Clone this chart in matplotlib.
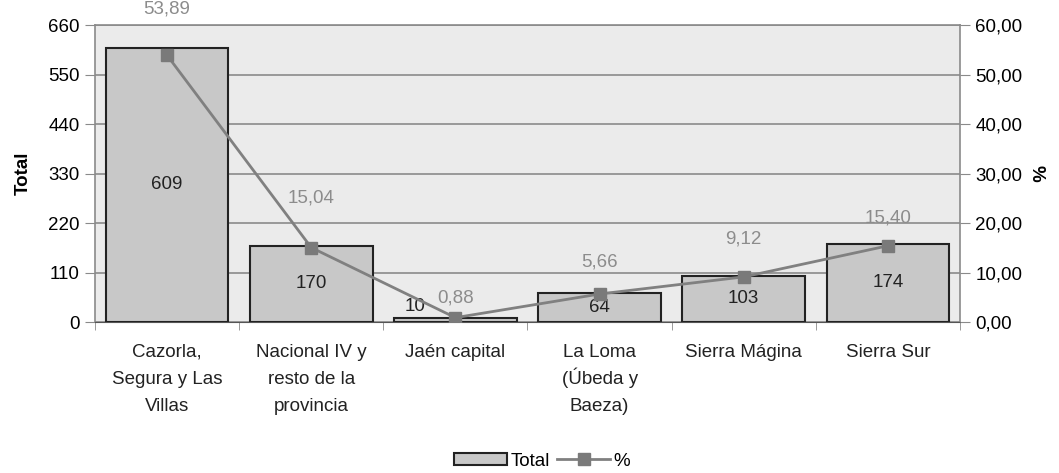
import numpy as np
import matplotlib.pyplot as plt
from matplotlib.patches import Patch
from matplotlib.lines import Line2D
from matplotlib.transforms import blended_transform_factory, offset_copy

plt.rcParams['font.family'] = ['Liberation Sans', 'DejaVu Sans']

categories = ["Cazorla,\nSegura y Las\nVillas", "Nacional IV y\nresto de la\nprovincia",
              "Jaén capital", "La Loma\n(Úbeda y\nBaeza)", "Sierra Mágina", "Sierra Sur"]
totals = [609, 170, 10, 64, 103, 174]
percents = [53.89, 15.04, 0.88, 5.66, 9.12, 15.40]
total_ticks = [0, 110, 220, 330, 440, 550, 660]
pct_ticks = [0, 10, 20, 30, 40, 50, 60]

# label offsets for the % labels, in points (as placed in the original)
pct_label_dy = [33, 36, 14, 23, 27, 20]

FS = 13.5
fig = plt.figure(figsize=(10.59, 4.73), dpi=100)
ax = fig.add_axes([0.0897, 0.3192, 0.8168, 0.6279])
ax.set_facecolor('#ebebeb')

x = np.arange(len(categories))
ax.bar(x, totals, width=0.85, color='#c8c8c8', edgecolor='#222222', linewidth=1.5, zorder=3)
ax.set_xlim(-0.5, len(categories) - 0.5)
ax.set_ylim(0, 660)
ax.set_yticks(total_ticks)
ax.yaxis.grid(True, color='#8a8a8a', linewidth=1.2, zorder=0)
ax.set_axisbelow(True)
ax.tick_params(axis='y', labelsize=FS, length=7, color='#8a8a8a', pad=4)
ax.set_ylabel('Total', fontsize=FS, fontweight='bold', labelpad=12)

# x ticks between categories, labels drawn line by line for even spacing
ax.set_xticks([])
ax.set_xticks(np.arange(len(categories) + 1) - 0.5, minor=True)
ax.tick_params(axis='x', which='minor', length=6, color='#8a8a8a')
trans = blended_transform_factory(ax.transData, ax.transAxes)
for i, lab in enumerate(categories):
    for j, line in enumerate(lab.split('\n')):
        t = offset_copy(trans, fig=fig, y=-25 - 19.5 * j, units='points')
        ax.text(i, 0, line, transform=t, ha='center', va='baseline', fontsize=FS, color='#222222')

for s in ['left', 'right', 'top']:
    ax.spines[s].set_color('#8a8a8a')
    ax.spines[s].set_linewidth(1.2)
ax.spines['bottom'].set_color('#555555')

for i, v in enumerate(totals):
    if v < 30:
        ax.text(i - 0.28, v + 6, str(v), ha='center', va='bottom', fontsize=FS, color='#222222', zorder=5)
    else:
        ax.text(i, v / 2, str(v), ha='center', va='center', fontsize=FS, color='#222222', zorder=5)

ax2 = ax.twinx()
ax2.set_ylim(0, 60)
ax2.set_yticks(pct_ticks)
ax2.set_yticklabels([f"{t:.2f}".replace('.', ',') for t in pct_ticks])
ax2.tick_params(axis='y', labelsize=FS, length=7, color='#8a8a8a', pad=4)
ax2.set_ylabel('%', fontsize=FS, fontweight='bold', rotation=270, labelpad=16)
for s in ax2.spines.values():
    s.set_visible(False)
ax2.plot(x, percents, color='#808080', linewidth=2, marker='s', markersize=8,
         markerfacecolor='#7a7a7a', markeredgecolor='#7a7a7a', zorder=4)
for i, v in enumerate(percents):
    ax2.annotate(f"{v:.2f}".replace('.', ','), (i, v), xytext=(0, pct_label_dy[i]),
                 textcoords='offset points', ha='center', va='center', fontsize=FS, color='#8c8c8c')

handles = [Patch(facecolor='#c8c8c8', edgecolor='#222222', linewidth=1.5),
           Line2D([], [], color='#808080', linewidth=2, marker='s', markersize=8,
                  markerfacecolor='#7a7a7a', markeredgecolor='#7a7a7a')]
fig.legend(handles, ['Total', '%'], loc='center', bbox_to_anchor=(0.512, 0.025), ncol=2,
           frameon=False, fontsize=FS, handlelength=2.8, handleheight=0.6,
           handletextpad=0.2, columnspacing=0.4)

fig.savefig('out.png', dpi=100)
